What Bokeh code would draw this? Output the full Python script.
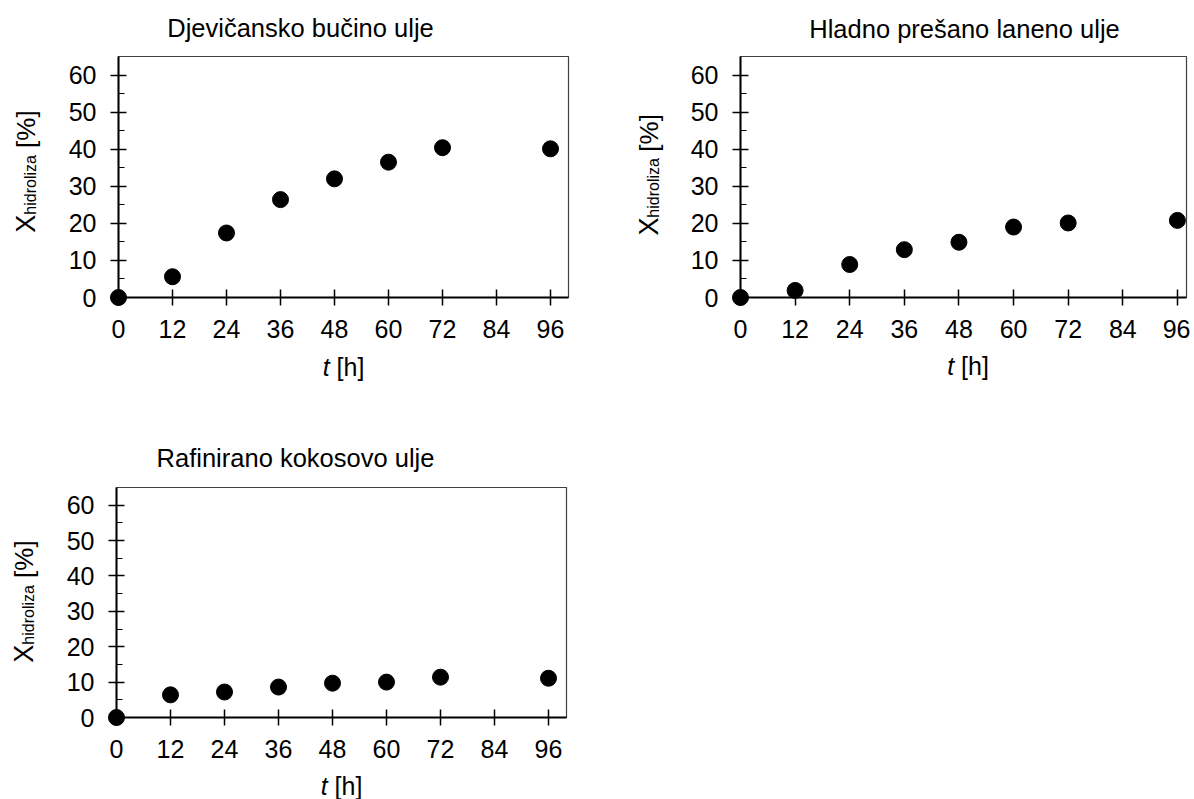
import math
from bokeh.plotting import figure
from bokeh.models import FixedTicker, Range1d
from bokeh.core.properties import value
from bokeh.layouts import column, row
from bokeh.embed import file_html
from bokeh.resources import INLINE

# ---- data -------------------------------------------------------------
hours = [0, 12, 24, 36, 48, 60, 72, 96]
pumpkin = [0, 5.6, 17.4, 26.4, 32.0, 36.5, 40.4, 40.1]
linseed = [0, 1.9, 8.9, 12.9, 14.9, 19.0, 20.1, 20.8]
coconut = [0, 6.4, 7.2, 8.6, 9.7, 10.0, 11.4, 11.1]
titles = ["Djevičansko bučino ulje", "Hladno prešano laneno ulje", "Rafinirano kokosovo ulje"]
x_ticks = [0, 12, 24, 36, 48, 60, 72, 84, 96]
y_ticks = [0, 10, 20, 30, 40, 50, 60]
y_minor = [5, 15, 25, 35, 45, 55]
x_label_main, x_label_rest = "t", "[h]"
y_label_main, y_label_sub, y_label_rest = "X", "hidroliza", "[%]"

FONT = "Liberation Sans"
FS = 25        # tick / x-axis label size px
FS_TITLE = 25.5
FS_YLAB = 26   # y-axis label size
FS_X = 27      # the big "X"
FS_SUB = 16    # subscript size px
Y_END = 65
BASE_FIX = 8   # text glyph baseline correction (px)


def panel(ys, title, ox, oy, W, H, fl, fr, ft, fb, x_end,
          title_cx, title_base, ylab_base, ylab_cy, xlab_base):
    """fl, fr, ft, fb: frame edges in page px; ox, oy: figure origin in page px."""
    p = figure(width=W, height=H, x_range=Range1d(0, x_end), y_range=Range1d(0, Y_END),
               output_backend="svg", toolbar_location=None,
               min_border_left=fl - ox, min_border_right=ox + W - fr,
               min_border_top=ft - oy, min_border_bottom=oy + H - fb)
    p.grid.visible = False
    p.background_fill_color = "white"
    p.border_fill_color = "white"
    p.outline_line_color = "#404040"
    p.outline_line_width = 1.2

    xa = p.xaxis[0]
    xa.ticker = FixedTicker(ticks=x_ticks)
    xa.major_tick_in = 8
    xa.major_tick_out = 8
    xa.minor_tick_in = 0
    xa.minor_tick_out = 0
    xa.axis_line_width = 2
    xa.major_tick_line_width = 1.5
    xa.major_label_text_font = FONT
    xa.major_label_text_font_size = f"{FS}px"
    xa.major_label_text_color = "black"
    xa.major_label_standoff = 14

    ya = p.yaxis[0]
    ya.ticker = FixedTicker(ticks=y_ticks, minor_ticks=y_minor)
    ya.major_tick_in = 8
    ya.major_tick_out = 8
    ya.minor_tick_in = 6
    ya.minor_tick_out = 0
    ya.axis_line_width = 2
    ya.major_tick_line_width = 1.5
    ya.minor_tick_line_width = 1.2
    ya.major_label_text_font = FONT
    ya.major_label_text_font_size = f"{FS}px"
    ya.major_label_text_color = "black"
    ya.major_label_standoff = 14

    p.scatter(hours, ys, size=16, color="black", level="overlay")

    kx = x_end / (fr - fl)
    ky = Y_END / (fb - ft)

    def lab(px, py, text, size=FS, style="normal", angle=0, align="left"):
        if angle == 0:
            py -= BASE_FIX
        else:
            px -= BASE_FIX
        p.text(x=[(px - fl) * kx], y=[(fb - py) * ky], text=[text],
               text_font=value(FONT), text_font_size=value(f"{size}px"),
               text_font_style=value(style), text_color="black", angle=angle,
               text_align=value(align), text_baseline=value("alphabetic"),
               level="overlay")

    # title
    lab(title_cx, title_base, title, size=FS_TITLE, align="center")

    # x-axis label: italic t + " [h]"
    w_t = 0.278 * FS
    w_sp = 0.278 * FS
    w_rest = 1.112 * FS
    cx = fl + 50 / kx
    start = cx - (w_t + w_sp + w_rest) / 2
    lab(start, xlab_base, x_label_main, style="italic")
    lab(start + w_t + w_sp, xlab_base, x_label_rest)

    # y-axis label rotated: X, subscript, [%]
    w_X = 0.667 * FS_X
    w_sub = 3.723 * FS_SUB
    w_sp_y = 0.278 * FS_YLAB
    w_pct = 1.445 * FS_YLAB
    total = w_X + w_sub + w_sp_y + w_pct
    bottom = ylab_cy + total / 2
    ang = math.pi / 2
    lab(ylab_base, bottom, y_label_main, size=FS_X, angle=ang)
    lab(ylab_base + 5, bottom - w_X, y_label_sub, size=FS_SUB, angle=ang)
    lab(ylab_base, bottom - w_X - w_sub - w_sp_y, y_label_rest, size=FS_YLAB, angle=ang)
    return p


# row 1: p1 at page (0,0), p2 at page (620,0); row 2: p3 at page (0,400)
p1 = panel(pumpkin, titles[0], 0, 0, 620, 400, 118, 568, 56, 297, 100,
           300, 35, 33, 171, 374)
p2 = panel(linseed, titles[1], 620, 0, 570, 400, 740, 1186, 54, 298, 98,
           964, 34, 656, 174, 375)
p3 = panel(coconut, titles[2], 0, 400, 620, 399, 116, 566, 487, 717, 100,
           295, 465, 31, 601, 793)

layout = column(row(p1, p2), p3)
open("out.html", "w").write(file_html(layout, INLINE))
